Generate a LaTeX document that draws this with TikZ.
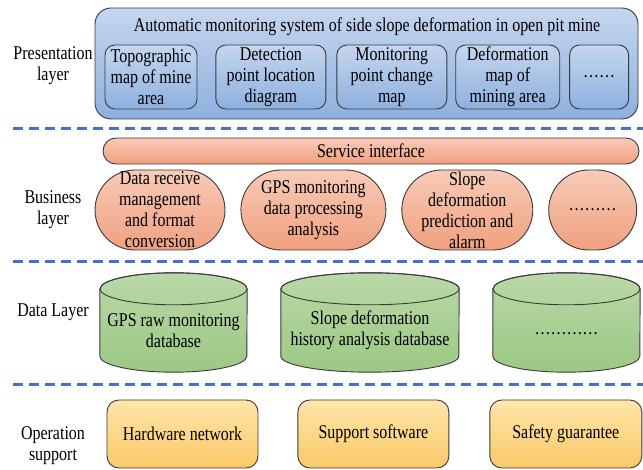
\documentclass[tikz,border=0pt]{standalone}
\usepackage{fontspec}
\setmainfont{Liberation Serif}[FakeStretch=0.82]
\usetikzlibrary{positioning,backgrounds}

\definecolor{sepblue}{HTML}{4472C4}
\definecolor{bluetop}{HTML}{C5D6EE}
\definecolor{bluebot}{HTML}{8EB0DF}
\definecolor{redtop}{HTML}{F8CBB8}
\definecolor{redbot}{HTML}{F0A07F}
\definecolor{greentop}{HTML}{BAD8A8}
\definecolor{greenbot}{HTML}{9CC884}
\definecolor{yeltop}{HTML}{FFE6AA}
\definecolor{yelbot}{HTML}{FAC868}
\definecolor{rim}{HTML}{3A3A3A}

\begin{document}
\begin{tikzpicture}[x=1pt,y=-1pt,font=\fontsize{19.5}{21}\selectfont]
\useasboundingbox (0,0) rectangle (643,470);

\begin{scope}[inner sep=0pt,align=center,
  sep/.style={draw=sepblue,line width=3pt,dash pattern=on 10pt off 6pt},
  pres/.style={draw=rim,line width=.9pt,rounded corners=16pt,top color=bluetop,bottom color=bluebot},
  view/.style={pres,rounded corners=10pt,minimum height=64pt},
  serv/.style={draw=rim,line width=.9pt,top color=redtop,bottom color=redbot},
  func/.style={serv,rounded corners=40pt,minimum height=80pt},
  store/.style={minimum height=83pt},
  drum/.style={draw=rim,line width=.9pt,top color=greentop,bottom color=greenbot},
  supp/.style={draw=rim,line width=.9pt,rounded corners=12pt,top color=yeltop,bottom color=yelbot,minimum height=68pt}]
% Layer names
\node (lp) at (53,66) {Presentation\\layer};
\node (lb) at (53,210) {Business\\layer};
\node (ld) at (53,312) {Data Layer};
\node (lo) at (53,446) {Operation\\support};

% Separators
\draw[sep] (13,129) -- (643,129);
\draw[sep] (13,262) -- (643,262);
\draw[sep] (13,385) -- (643,385);

% Presentation layer
\node[pres,minimum width=543pt,minimum height=111pt] (pbox) at (366.5,63.5) {};
\node (ptitle) at (367,27) {Automatic monitoring system of side slope deformation in open pit mine};
\node[view,minimum width=92pt] (p1) at (151,77) {Topographic\\map of mine\\area};
\node[view,minimum width=110pt,right=18pt of p1] (p2) {Detection\\point location\\diagram};
\node[view,minimum width=110pt,right=10pt of p2] (p3) {Monitoring\\point change\\map};
\node[view,minimum width=104pt,right=8pt of p3] (p4) {Deformation\\map of\\mining area};
\node[view,minimum width=59pt,right=9pt of p4] (p5) {……};

% Business layer
\node[serv,rounded corners=13pt,minimum width=536pt,minimum height=26pt] (srv) at (371,151) {Service interface};
\node[func,minimum width=130pt] (b1) at (160,210) {Data receive\\management\\and format\\conversion};
\node[func,minimum width=145pt,right=15pt of b1] (b2) {GPS monitoring\\data processing\\analysis};
\node[func,minimum width=131pt,right=15pt of b2] (b3) {Slope\\deformation\\prediction and\\alarm};
\node[func,minimum width=88pt,right=15pt of b3] (b4) {………};

% Data layer
\node[store,minimum width=147pt] (d1) at (173.5,330.5) {GPS raw monitoring\\database};
\node[store,minimum width=178pt] (d2) at (370,330.5) {Slope deformation\\history analysis database};
\node[store,minimum width=147pt] (d3) at (566.5,334) {…………};

\begin{scope}[on background layer]
\path[drum] (d1.north west) -- ([yshift=16pt]d1.south west) arc[start angle=180,end angle=360,x radius=73.5pt,y radius=16pt] -- (d1.north east) arc[start angle=0,end angle=180,x radius=73.5pt,y radius=16pt] -- cycle;
\draw[rim,line width=.9pt] (d1.north) ellipse[x radius=73.5pt,y radius=16pt];
\path[drum] (d2.north west) -- ([yshift=16pt]d2.south west) arc[start angle=180,end angle=360,x radius=89pt,y radius=16pt] -- (d2.north east) arc[start angle=0,end angle=180,x radius=89pt,y radius=16pt] -- cycle;
\draw[rim,line width=.9pt] (d2.north) ellipse[x radius=89pt,y radius=16pt];
\path[drum] ([yshift=3.5pt]d3.north west) -- ([yshift=19.5pt]d3.south west) arc[start angle=180,end angle=360,x radius=73.5pt,y radius=16pt] -- ([yshift=3.5pt]d3.north east) arc[start angle=0,end angle=180,x radius=73.5pt,y radius=16pt] -- cycle;
\draw[rim,line width=.9pt] ([yshift=3.5pt]d3.north) ellipse[x radius=73.5pt,y radius=16pt];
\end{scope}

% Operation support
\node[supp,minimum width=151pt] (s1) at (182.5,434) {Hardware network};
\node[supp,minimum width=151pt,right=39pt of s1] (s2) {Support software};
\node[supp,minimum width=152pt,right=40pt of s2] (s3) {Safety guarantee};
\end{scope}

\end{tikzpicture}
\end{document}
